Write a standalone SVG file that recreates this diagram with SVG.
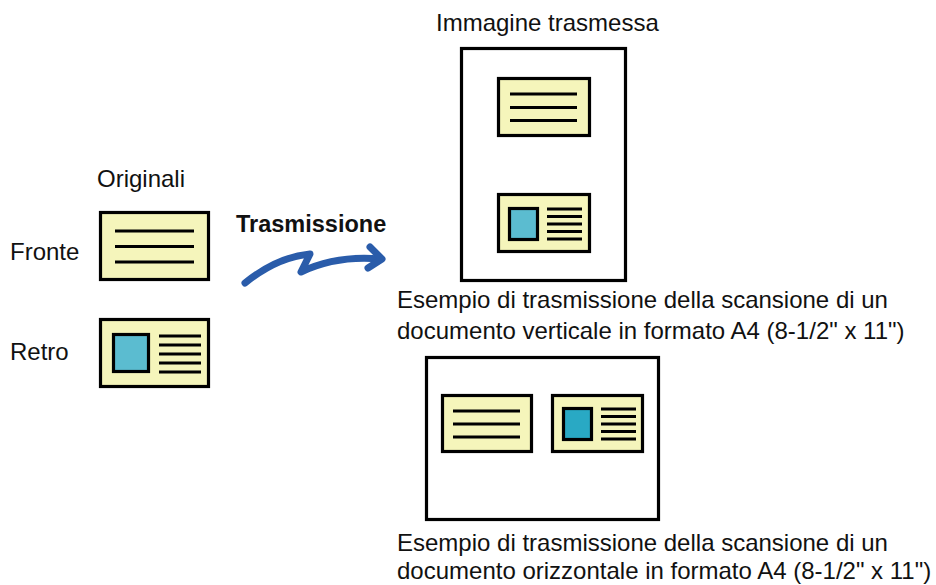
<svg xmlns="http://www.w3.org/2000/svg" width="936" height="585" viewBox="0 0 936 585">
<style>
text{font-family:"Liberation Sans",Arial,sans-serif;font-size:24px;fill:#111}
.b{font-weight:bold;font-size:23.5px}
.card{fill:#F5F5BB;stroke:#000;stroke-width:3.2}
.page{fill:#fff;stroke:#000;stroke-width:3.2}
.ln{stroke:#000;stroke-width:3;fill:none}
.sq{fill:#5BBCD0;stroke:#000;stroke-width:3.2}
.sq2{fill:#29A9C4;stroke:#000;stroke-width:3.2}
.arr{fill:none;stroke:#2A5CAA;stroke-width:7;stroke-linecap:round;stroke-linejoin:round}
</style>
<rect width="936" height="585" fill="#fff"/>
<g id="labels">
<text x="97" y="187">Originali</text>
<text x="10" y="260">Fronte</text>
<text x="10" y="360">Retro</text>
<text class="b" x="236" y="232">Trasmissione</text>
<text x="436" y="31">Immagine trasmessa</text>
<text x="397" y="308">Esempio di trasmissione della scansione di un</text>
<text x="397" y="339">documento verticale in formato A4 (8-1/2" x 11")</text>
<text x="397" y="551">Esempio di trasmissione della scansione di un</text>
<text x="397" y="579">documento orizzontale in formato A4 (8-1/2" x 11")</text>
</g>
<g id="fronte">
<rect class="card" x="100.5" y="212.5" width="108" height="67"/>
<path class="ln" d="M115 231H194M115 246.5H194M115 262H194"/>
</g>
<g id="retro">
<rect class="card" x="100.5" y="319.5" width="108" height="67"/>
<rect class="sq" x="113.5" y="334.5" width="35" height="37"/>
<path class="ln" d="M159 336H201M159 345H201M159 354H201M159 363H201M159 372H201"/>
</g>
<g id="connectors">
<path class="arr" d="M245 283C266 266 289 256 310 254L301 272C322 262 346 256 380 259"/>
<path class="arr" d="M370 247L382 259L368 268"/>
</g>
<g id="verticale">
<rect class="page" x="461.5" y="48.5" width="164" height="232"/>
<rect class="card" x="498.5" y="78.5" width="91" height="57"/>
<path class="ln" d="M510 94H577M510 107.5H577M510 120.5H577"/>
<rect class="card" x="498.5" y="194.5" width="91" height="57"/>
<rect class="sq" x="509.5" y="208.5" width="28" height="31"/>
<path class="ln" d="M547 209H582M547 216.5H582M547 224H582M547 231.5H582M547 239H582"/>
</g>
<g id="orizzontale">
<rect class="page" x="426.5" y="357.5" width="232" height="162"/>
<rect class="card" x="442.5" y="395.5" width="89" height="56"/>
<path class="ln" d="M453 411H520M453 424H520M453 437H520"/>
<rect class="card" x="552.5" y="395.5" width="90" height="56"/>
<rect class="sq2" x="563.5" y="408.5" width="28" height="31"/>
<path class="ln" d="M601 409H636M601 416.5H636M601 424H636M601 431.5H636M601 439H636"/>
</g>
</svg>
